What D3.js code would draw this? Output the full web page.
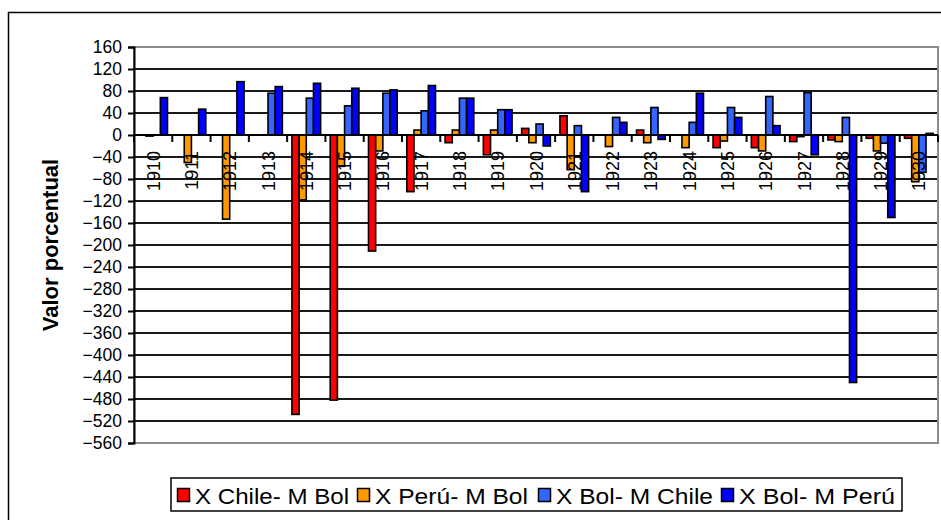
<!DOCTYPE html>
<html>
<head>
<meta charset="utf-8">
<script src="https://cdn.jsdelivr.net/npm/d3@7"></script>
<style>
  body { margin: 0; background: #fff; }
  svg { display: block; font-family: "Liberation Sans", Arial, sans-serif; }
</style>
</head>
<body>
<svg id="chart" width="941" height="520"></svg>
<script>
// Years on the category axis
const years = ["1910","1911","1912","1913","1914","1915","1916","1917","1918","1919","1920",
               "1921","1922","1923","1924","1925","1926","1927","1928","1929","1930"];

// Series names (legend order)
const seriesNames = ["X Chile- M Bol", "X Perú- M Bol", "X Bol- M Chile", "X Bol- M Perú"];
const seriesColors = ["#ff0000", "#ff9900", "#3366ff", "#0000ff"];

// Percentage values per year
const xChileMBol = [0, 0, 0, 0, -508, -482, -211, -103, -14, -36, 12, 35, 0, 9, 0, -23, -23, -12, -9, -6, -6];
const xPeruMBol  = [-2, -50, -153, 0, -118, -57, -29, 9, 9, 9, -14, -63, -21, -14, -23, -11, -29, -3, -12, -29, -85];
const xBolMChile = [0, 0, 0, 76, 67, 53, 76, 44, 67, 46, 20, 17, 32, 50, 23, 50, 70, 77, 32, -15, -68];
const xBolMPeru  = [68, 47, 97, 88, 94, 85, 82, 90, 67, 46, -20, -103, 23, -8, 76, 32, 17, -36, -450, -150, 3];

// Y-axis tick values
const yTicks = [160, 120, 80, 40, 0, -40, -80, -120, -160, -200, -240, -280, -320, -360, -400, -440, -480, -520, -560];

const seriesValues = [xChileMBol, xPeruMBol, xBolMChile, xBolMPeru];

const svg = d3.select("#chart");
const plot = { left: 134, right: 938, top: 47, bottom: 443 };

// Outer chart frame
svg.append("rect")
  .attr("x", 8.5).attr("y", 12.5)
  .attr("width", 960).attr("height", 540)
  .attr("fill", "#fff").attr("stroke", "#000").attr("stroke-width", 1.5);

const x = d3.scaleBand()
  .domain(years)
  .range([plot.left, plot.right])
  .paddingInner(0.25)
  .paddingOuter(0.125);

const xs = d3.scaleBand()
  .domain(d3.range(seriesNames.length))
  .range([0, x.bandwidth()])
  .padding(0);

const y = d3.scaleLinear()
  .domain([-560, 160])
  .range([plot.bottom, plot.top]);

// Horizontal gridlines
svg.append("g")
  .attr("class", "gridlines")
  .selectAll("line")
  .data(yTicks.filter(t => t !== 160 && t !== -560))
  .join("line")
  .attr("x1", plot.left).attr("x2", plot.right)
  .attr("y1", d => Math.round(y(d))).attr("y2", d => Math.round(y(d)))
  .attr("stroke", "#1a1a1a")
  .attr("stroke-width", 2);

// Plot area border
svg.append("rect")
  .attr("x", plot.left).attr("y", Math.round(y(160)))
  .attr("width", plot.right - plot.left)
  .attr("height", Math.round(y(-560)) - Math.round(y(160)))
  .attr("fill", "none").attr("stroke", "#8c8c8c").attr("stroke-width", 2);

// Y axis
const yAxis = d3.axisLeft(y)
  .tickValues(yTicks)
  .tickSize(6)
  .tickPadding(6)
  .tickFormat(d3.format("d"));

const yg = svg.append("g")
  .attr("transform", `translate(${plot.left},0)`)
  .call(yAxis);
yg.select(".domain").attr("stroke", "#000").attr("stroke-width", 2);
yg.selectAll(".tick line").attr("stroke", "#000").attr("stroke-width", 2);
yg.selectAll(".tick text")
  .attr("font-size", 17.5)
  .attr("font-family", "Liberation Sans, Arial, sans-serif")
  .attr("fill", "#000");

// Bars
const groups = svg.append("g")
  .attr("class", "bars")
  .selectAll("g")
  .data(years)
  .join("g")
  .attr("transform", d => `translate(${x(d)},0)`);

groups.selectAll("rect")
  .data((yr, i) => seriesValues.map((s, k) => ({ k, v: s[i] })).filter(d => d.v !== 0))
  .join("rect")
  .attr("x", d => xs(d.k))
  .attr("width", xs.bandwidth())
  .attr("y", d => y(Math.max(0, d.v)))
  .attr("height", d => Math.abs(y(d.v) - y(0)))
  .attr("fill", d => seriesColors[d.k])
  .attr("stroke", "#000")
  .attr("stroke-width", 1.6);

// Category axis along zero
const y0 = Math.round(y(0));
svg.append("line")
  .attr("x1", plot.left).attr("x2", plot.right)
  .attr("y1", y0).attr("y2", y0)
  .attr("stroke", "#000").attr("stroke-width", 2);

const step = x.step();
svg.append("g")
  .selectAll("line")
  .data(d3.range(years.length + 1))
  .join("line")
  .attr("x1", i => plot.left + i * step)
  .attr("x2", i => plot.left + i * step)
  .attr("y1", y0).attr("y2", y0 + 7)
  .attr("stroke", "#000")
  .attr("stroke-width", 2);

// Rotated year labels
svg.append("g")
  .selectAll("text")
  .data(years)
  .join("text")
  .attr("transform", d => `translate(${x(d) + x.bandwidth() / 2 + 6.5},${y0 + 16}) rotate(-90)`)
  .attr("text-anchor", "end")
  .attr("font-size", 18)
  .attr("fill", "#000")
  .text(d => d);

// Y axis title
svg.append("text")
  .attr("transform", `translate(58,${(plot.top + plot.bottom) / 2}) rotate(-90)`)
  .attr("text-anchor", "middle")
  .attr("font-size", 22)
  .attr("font-weight", "bold")
  .attr("fill", "#000")
  .text("Valor porcentual");

// Legend
const legend = { x: 171, y: 478, w: 731, h: 33 };
svg.append("rect")
  .attr("x", legend.x).attr("y", legend.y)
  .attr("width", legend.w).attr("height", legend.h)
  .attr("fill", "#fff").attr("stroke", "#000").attr("stroke-width", 1.5);

const legendX = [177, 357, 538, 721];
const legendTextLen = [154, 153, 157, 156];
const items = svg.append("g")
  .selectAll("g")
  .data(seriesNames)
  .join("g")
  .attr("transform", (d, i) => `translate(${legendX[i]},${legend.y + 10})`);

items.append("rect")
  .attr("x", 0.5).attr("y", 0.5)
  .attr("width", 12).attr("height", 13)
  .attr("fill", (d, i) => seriesColors[i])
  .attr("stroke", "#000")
  .attr("stroke-width", 1.5);

items.append("text")
  .attr("x", 18).attr("y", 16)
  .attr("font-size", 22)
  .attr("textLength", (d, i) => legendTextLen[i])
  .attr("lengthAdjust", "spacingAndGlyphs")
  .attr("fill", "#000")
  .text(d => d);
</script>
</body>
</html>
